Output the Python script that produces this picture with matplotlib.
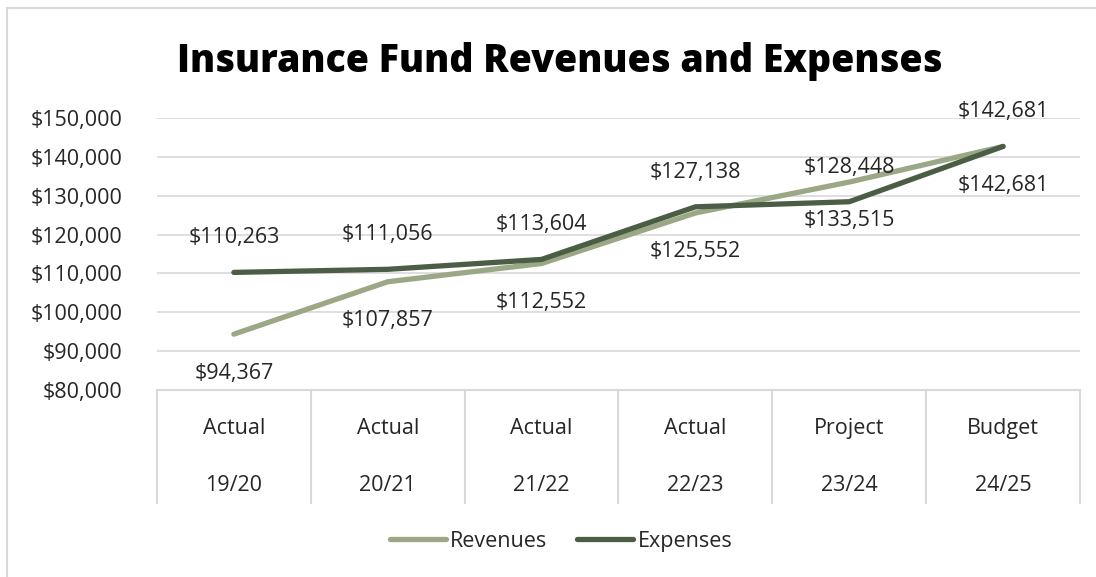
import matplotlib.pyplot as plt
from matplotlib.patches import Rectangle
from matplotlib.ticker import FuncFormatter, MultipleLocator

plt.rcParams['font.family'] = ['Open Sans', 'DejaVu Sans']

periods = ["Actual", "Actual", "Actual", "Actual", "Project", "Budget"]
years = ["19/20", "20/21", "21/22", "22/23", "23/24", "24/25"]
revenues = [94367, 107857, 112552, 125552, 133515, 142681]
expenses = [110263, 111056, 113604, 127138, 128448, 142681]

rev_color = "#9aa886"
exp_color = "#4b5e45"
grid_color = "#d9d9d9"
text_color = "#262626"
fs = 15.5

fig = plt.figure(figsize=(10.96, 5.77), dpi=100)
ax = fig.add_axes([0.1432, 0.3241, 0.8422, 0.4714])

x = list(range(len(years)))
ax.plot(x, revenues, color=rev_color, lw=3.8, solid_capstyle="round",
        solid_joinstyle="round", label="Revenues", zorder=3)
ax.plot(x, expenses, color=exp_color, lw=3.8, solid_capstyle="round",
        solid_joinstyle="round", label="Expenses", zorder=4)

# value labels: revenues below the line, expenses above
for xi, v in zip(x, revenues):
    ax.annotate(f"${v:,.0f}", (xi, v), xytext=(0, -28), textcoords="offset points",
                ha="center", va="center", fontsize=fs, color=text_color)
for xi, v in zip(x, expenses):
    ax.annotate(f"${v:,.0f}", (xi, v), xytext=(0, 25), textcoords="offset points",
                ha="center", va="center", fontsize=fs, color=text_color)

ax.set_xlim(-0.5, len(years) - 0.5)
ax.set_ylim(80000, 150000)
ax.yaxis.set_major_locator(MultipleLocator(10000))
ax.yaxis.set_major_formatter(FuncFormatter(lambda v, p: f"${v:,.0f}"))
ax.tick_params(axis="y", length=0, labelsize=fs, labelcolor=text_color, pad=25)
ax.set_xticks([])
ax.grid(axis="y", color=grid_color, lw=1.2)
ax.set_axisbelow(True)
for side in ["top", "right", "left"]:
    ax.spines[side].set_visible(False)
ax.spines["bottom"].set_color(grid_color)
ax.spines["bottom"].set_linewidth(1.5)

# two-level category axis with separators
trans = ax.get_xaxis_transform()
for b in [i - 0.5 for i in range(len(years) + 1)]:
    ax.plot([b, b], [0, -0.415], transform=trans, color=grid_color, lw=1.5,
            clip_on=False)
for xi, p, yr in zip(x, periods, years):
    ax.text(xi, -0.14, p, transform=trans, ha="center", va="center",
            fontsize=fs, color=text_color)
    ax.text(xi, -0.35, yr, transform=trans, ha="center", va="center",
            fontsize=fs, color=text_color)

fig.text(0.511, 0.893, "Insurance Fund Revenues and Expenses", ha="center",
         va="center", fontsize=27, fontweight="extra bold", color="black")

leg = fig.legend(loc="center", bbox_to_anchor=(0.512, 0.062), ncol=2,
                 frameon=False, fontsize=fs, handlelength=2.6,
                 handletextpad=0.2, columnspacing=1.4)
for t in leg.get_texts():
    t.set_color(text_color)

fig.patches.append(Rectangle((7 / 1096, -0.1), 1.2, 1.1 - 8 / 577,
                             transform=fig.transFigure, fill=False,
                             edgecolor=grid_color, lw=1.5))

fig.savefig("out.png", dpi=100)
